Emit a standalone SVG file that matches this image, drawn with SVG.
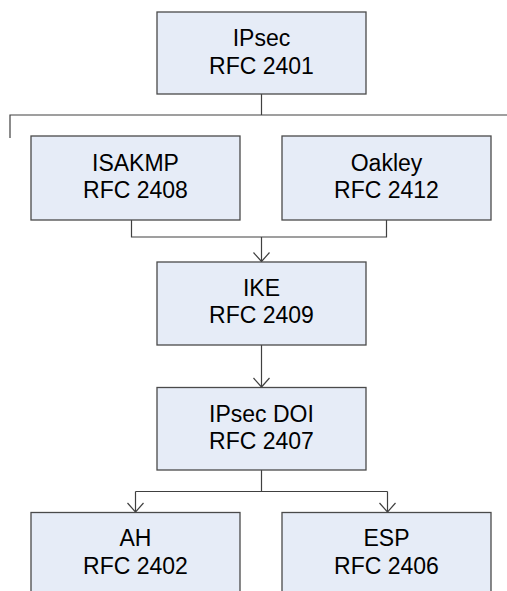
<svg xmlns="http://www.w3.org/2000/svg" width="507" height="591" viewBox="0 0 507 591">
<style>
.box{fill:#E6ECF7;stroke:#4a4a4a;stroke-width:1.3}
.t{font-family:"Liberation Sans",Arial,sans-serif;font-size:23px;fill:#000;text-anchor:middle}
.c{fill:none;stroke:#404040;stroke-width:1.2}
</style>
<defs>
<marker id="arr" markerWidth="12" markerHeight="20" refX="10" refY="9" orient="auto" markerUnits="userSpaceOnUse" viewBox="0 0 12 20">
<path d="M1,1 L10,9 L1,17" fill="none" stroke="#404040" stroke-width="1.2"/>
</marker>
</defs>
<rect width="507" height="591" fill="#fff"/>
<g id="connectors">
<path class="c" d="M261.5,94 V115 M10,138 V115 H507"/>
<path class="c" d="M131.5,220 V237 H386.5 V220"/>
<path class="c" d="M261.5,237 V261.5" marker-end="url(#arr)"/>
<path class="c" d="M261.5,345 V387" marker-end="url(#arr)"/>
<path class="c" d="M261.5,470 V491.5 H135.5 M261.5,491.5 H387.5"/>
<path class="c" d="M135.5,491.5 V512" marker-end="url(#arr)"/>
<path class="c" d="M387.5,491.5 V512" marker-end="url(#arr)"/>
</g>
<g id="ipsec">
<rect class="box" x="157" y="12" width="209" height="82"/>
<text class="t" x="261.5" y="46">IPsec</text>
<text class="t" x="261.5" y="74">RFC 2401</text>
</g>
<g id="isakmp">
<rect class="box" x="31" y="136" width="209" height="84"/>
<text class="t" x="135.5" y="171">ISAKMP</text>
<text class="t" x="135.5" y="198">RFC 2408</text>
</g>
<g id="oakley">
<rect class="box" x="282" y="136" width="209" height="84"/>
<text class="t" x="386.5" y="171">Oakley</text>
<text class="t" x="386.5" y="198">RFC 2412</text>
</g>
<g id="ike">
<rect class="box" x="157" y="262" width="209" height="83"/>
<text class="t" x="261.5" y="296">IKE</text>
<text class="t" x="261.5" y="323">RFC 2409</text>
</g>
<g id="ipsecdoi">
<rect class="box" x="157" y="387.5" width="209" height="82.5"/>
<text class="t" x="261.5" y="422">IPsec DOI</text>
<text class="t" x="261.5" y="449">RFC 2407</text>
</g>
<g id="ah">
<rect class="box" x="31" y="512.5" width="209" height="90"/>
<text class="t" x="135.5" y="546">AH</text>
<text class="t" x="135.5" y="574">RFC 2402</text>
</g>
<g id="esp">
<rect class="box" x="282" y="512.5" width="209" height="90"/>
<text class="t" x="386.5" y="546">ESP</text>
<text class="t" x="386.5" y="574">RFC 2406</text>
</g>
</svg>
